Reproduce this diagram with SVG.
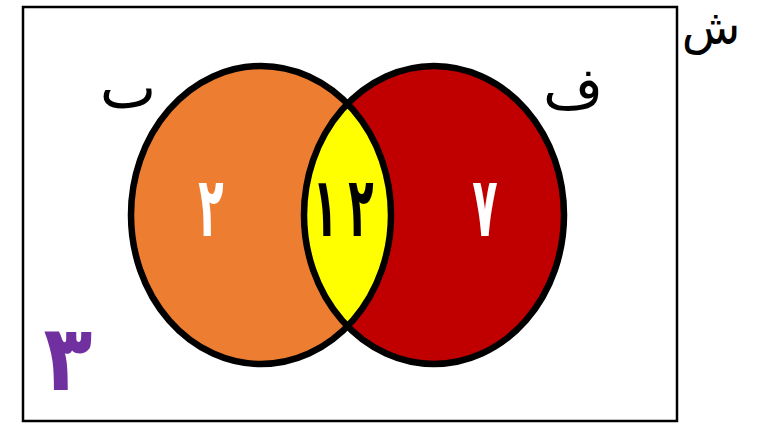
<svg xmlns="http://www.w3.org/2000/svg" width="765" height="426" viewBox="0 0 765 426">
<style>
.lbl{font-family:"DejaVu Sans","Noto Sans",sans-serif;fill:#000;text-anchor:middle}
.num{font-family:"DejaVu Sans","Noto Sans",sans-serif;font-weight:bold;text-anchor:middle;font-size:64px}
.ring{fill:none;stroke:#000;stroke-width:6.5}
</style>
<defs>
<clipPath id="clipA"><ellipse cx="261" cy="215" rx="130" ry="149"/></clipPath>
</defs>
<rect width="765" height="426" fill="#fff"/>
<g id="universe">
<rect x="23" y="7" width="654" height="414" fill="none" stroke="#000" stroke-width="2.5"/>
<text class="lbl" x="711" y="44" font-size="48">ش</text>
<text transform="translate(68,390) scale(1,1.15)" font-family="DejaVu Sans,sans-serif" font-weight="bold" font-size="80" fill="#7030A0" text-anchor="middle">٣</text>
</g>
<g id="setA">
<ellipse cx="261" cy="215" rx="130" ry="149" fill="#ED7D31"/>
<text class="lbl" x="128" y="108" font-size="60">ٮ</text>
<text class="num" transform="translate(211,236) scale(0.65,1.3)" fill="#fff">٢</text>
</g>
<g id="setB">
<ellipse cx="434" cy="215" rx="130" ry="149" fill="#C00000"/>
<text class="lbl" x="573" y="108" font-size="58">ف</text>
<text class="num" transform="translate(485,236) scale(0.65,1.3)" fill="#fff">٧</text>
</g>
<g id="intersection">
<ellipse cx="434" cy="215" rx="130" ry="149" fill="#FFFF00" clip-path="url(#clipA)"/>
<text class="num" transform="translate(343,236) scale(0.65,1.3)" fill="#000" direction="ltr" unicode-bidi="bidi-override">١<tspan dx="16">٢</tspan></text>
</g>
<g id="connectors">
<ellipse class="ring" cx="261" cy="215" rx="130" ry="149"/>
<ellipse class="ring" cx="434" cy="215" rx="130" ry="149"/>
</g>
</svg>
